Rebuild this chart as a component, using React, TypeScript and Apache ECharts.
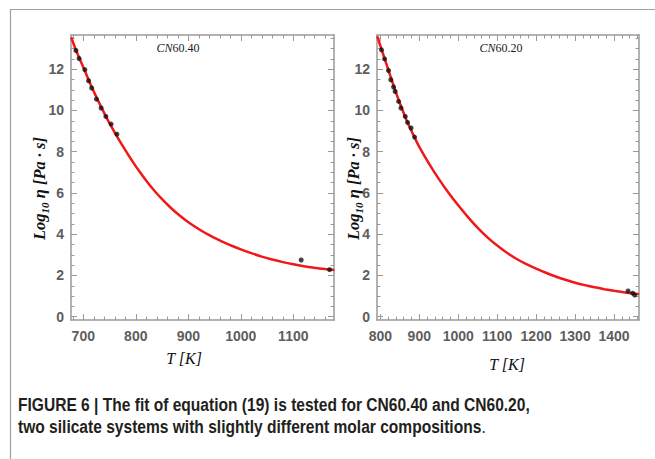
import React, { useEffect, useRef } from "react";
import * as echarts from "echarts";

// ---------- data ----------
const leftCurveT = [677, 686, 700, 715, 730, 745, 760, 775, 790, 805, 820, 835, 850, 865, 880, 895, 910, 925, 940, 955, 970, 985, 1000, 1020, 1040, 1060, 1080, 1100, 1120, 1140, 1160, 1178];
const leftCurveV = [13.55, 12.93, 12.1, 11.2, 10.38, 9.62, 8.93, 8.28, 7.68, 7.11, 6.59, 6.12, 5.7, 5.32, 4.98, 4.68, 4.41, 4.17, 3.955, 3.76, 3.58, 3.415, 3.265, 3.08, 2.915, 2.77, 2.645, 2.54, 2.45, 2.375, 2.31, 2.26];
const leftPtsT = [686, 692, 703, 710, 716, 725, 734, 743, 753, 764, 1115, 1169];
const leftPtsV = [12.91, 12.52, 11.98, 11.44, 11.09, 10.55, 10.12, 9.71, 9.34, 8.85, 2.75, 2.28];

const rightCurveT = [792, 805, 820, 835, 850, 865, 880, 888, 900, 925, 950, 975, 1000, 1025, 1050, 1075, 1100, 1125, 1150, 1175, 1200, 1225, 1250, 1275, 1300, 1325, 1350, 1375, 1400, 1425, 1450, 1464];
const rightCurveV = [13.6, 12.86, 12.0, 11.16, 10.36, 9.64, 9.0, 8.69, 8.24, 7.425, 6.685, 6.015, 5.4, 4.83, 4.31, 3.85, 3.45, 3.1, 2.8, 2.55, 2.33, 2.13, 1.95, 1.79, 1.65, 1.53, 1.425, 1.335, 1.255, 1.185, 1.125, 1.095];
const rightPtsT = [803, 811, 821, 827, 834, 838, 847, 853, 864, 870, 879, 888, 1436, 1448, 1453];
const rightPtsV = [12.94, 12.5, 11.94, 11.49, 11.14, 10.92, 10.44, 10.12, 9.71, 9.42, 9.15, 8.71, 1.25, 1.14, 1.05];

const leftXTicks = [700, 800, 900, 1000, 1100];
const rightXTicks = [800, 900, 1000, 1100, 1200, 1300, 1400];
const yTicks = [0, 2, 4, 6, 8, 10, 12];

const leftTitle = ["CN", "60.40"];
const rightTitle = ["CN", "60.20"];
const xName = "T [K]";
const yNameParts = ["Log", "10", " η [Pa · s]"];
const captionLine1 = "FIGURE 6 | The fit of equation (19) is tested for CN60.40 and CN60.20,";
const captionLine2 = "two silicate systems with slightly different molar compositions";

// ---------- layout / style ----------
const LEFT_X = { min: 676.6, max: 1177.5, minorFrom: 680, minorTo: 1160 };
const RIGHT_X = { min: 791.5, max: 1464, minorFrom: 800, minorTo: 1460 };
const Y_RANGE = { min: -0.16, max: 13.66, minorFrom: 0, minorTo: 13.5 };

function steps(from: number, to: number, step: number): number[] {
  const out: number[] = [];
  for (let i = 0; from + i * step <= to + 1e-9; i++) out.push(Math.round((from + i * step) * 100) / 100);
  return out;
}
function zip(a: number[], b: number[]) {
  return a.map((v, i) => [v, b[i]]);
}

const GRAY = "#9a9a9a";
const labelStyle = {
  fontFamily: '"Liberation Sans Narrow", "Arial Narrow", "Liberation Sans", sans-serif',
  fontWeight: "bold" as const,
  fontSize: 14,
  color: "#5e5e5e",
};
const SERIF = '"Liberation Serif", "DejaVu Serif", serif';

function axesFor(dim: "x" | "y", grid: number, min: number, max: number, major: number[], minor: number[]) {
  const base: any = { type: "value", gridIndex: grid, min, max, splitLine: { show: false } };
  const pos = dim === "x" ? ["bottom", "top"] : ["left", "right"];
  const line = { show: true, onZero: false, lineStyle: { color: GRAY, width: 1.5 } };
  const noLine = { show: false, onZero: false };
  return [
    {
      ...base,
      position: pos[0],
      axisLine: line,
      axisTick: { show: true, inside: true, length: 6, customValues: major, lineStyle: { color: GRAY, width: 1 } },
      axisLabel: {
        show: true,
        customValues: major,
        margin: dim === "x" ? 9 : 7,
        hideOverlap: false,
        showMinLabel: true,
        showMaxLabel: true,
        formatter: (v: number) => String(v),
        ...labelStyle,
      },
    },
    {
      ...base,
      position: pos[0],
      axisLine: noLine,
      axisTick: { show: true, inside: true, length: 3.5, customValues: minor, lineStyle: { color: GRAY, width: 1 } },
      axisLabel: { show: false },
    },
    {
      ...base,
      position: pos[1],
      axisLine: line,
      axisTick: { show: true, inside: true, length: 6, customValues: major, lineStyle: { color: GRAY, width: 1 } },
      axisLabel: { show: false },
    },
    {
      ...base,
      position: pos[1],
      axisLine: noLine,
      axisTick: { show: true, inside: true, length: 3.5, customValues: minor, lineStyle: { color: GRAY, width: 1 } },
      axisLabel: { show: false },
    },
  ];
}

function yNameGraphic(x: number, y: number) {
  const f = { fontFamily: SERIF, fontStyle: "italic", fontWeight: "bold", fill: "#111" };
  return {
    type: "text",
    x,
    y,
    rotation: Math.PI / 2,
    style: {
      text: `{a|${yNameParts[0]}}{s|${yNameParts[1]}}{a|${yNameParts[2]}}`,
      align: "center",
      verticalAlign: "middle",
      rich: {
        a: { ...f, fontSize: 16.5, lineHeight: 18, verticalAlign: "top" },
        s: { ...f, fontSize: 11, lineHeight: 11, padding: [8, 0, 0, 0], verticalAlign: "top" },
      },
    },
  };
}

function titleGraphic(x: number, parts: string[]) {
  return {
    type: "text",
    x,
    y: 47.5,
    style: {
      text: `{i|${parts[0]}}{r|${parts[1]}}`,
      align: "center",
      verticalAlign: "middle",
      rich: {
        i: { fontFamily: SERIF, fontStyle: "italic", fontSize: 12, fill: "#222" },
        r: { fontFamily: SERIF, fontSize: 12, fill: "#222" },
      },
    },
  };
}

function xNameGraphic(x: number, y: number) {
  return {
    type: "text",
    x,
    y,
    style: { text: xName, fontFamily: SERIF, fontStyle: "italic", fontSize: 16, fill: "#111", align: "center", verticalAlign: "middle" },
  };
}

export default function App() {
  const ref = useRef<HTMLDivElement>(null);
  useEffect(() => {
    if (!ref.current) return;
    const chart = echarts.init(ref.current, undefined, { renderer: "svg" });

    const capFont = 'bold 19px "Liberation Sans", Arial, sans-serif';
    let sx = 0.78;
    const cv = document.createElement("canvas").getContext("2d");
    if (cv) {
      cv.font = capFont;
      const w = cv.measureText(captionLine1).width;
      if (w > 0) sx = 512 / w;
    }

    const xMinorL = steps(LEFT_X.minorFrom, LEFT_X.minorTo, 20);
    const xMinorR = steps(RIGHT_X.minorFrom, RIGHT_X.minorTo, 20);
    const yMinor = steps(Y_RANGE.minorFrom, Y_RANGE.minorTo, 0.5);

    const option: any = {
      animation: false,
      backgroundColor: "#ffffff",
      grid: [
        { left: 71, top: 35, width: 263, height: 285 },
        { left: 377, top: 35, width: 262, height: 285 },
      ],
      xAxis: [
        ...axesFor("x", 0, LEFT_X.min, LEFT_X.max, leftXTicks, xMinorL),
        ...axesFor("x", 1, RIGHT_X.min, RIGHT_X.max, rightXTicks, xMinorR),
      ],
      yAxis: [
        ...axesFor("y", 0, Y_RANGE.min, Y_RANGE.max, yTicks, yMinor),
        ...axesFor("y", 1, Y_RANGE.min, Y_RANGE.max, yTicks, yMinor),
      ],
      series: [
        {
          type: "line",
          xAxisIndex: 0,
          yAxisIndex: 0,
          data: zip(leftCurveT, leftCurveV),
          showSymbol: false,
          smooth: 0.3,
          lineStyle: { color: "#f01818", width: 2.5 },
          z: 2,
        },
        {
          type: "scatter",
          xAxisIndex: 0,
          yAxisIndex: 0,
          data: zip(leftPtsT, leftPtsV),
          symbolSize: 5,
          itemStyle: { color: "#111" },
          z: 3,
        },
        {
          type: "line",
          xAxisIndex: 4,
          yAxisIndex: 4,
          data: zip(rightCurveT, rightCurveV),
          showSymbol: false,
          smooth: 0.3,
          lineStyle: { color: "#f01818", width: 2.5 },
          z: 2,
        },
        {
          type: "scatter",
          xAxisIndex: 4,
          yAxisIndex: 4,
          data: zip(rightPtsT, rightPtsV),
          symbolSize: 5,
          itemStyle: { color: "#111" },
          z: 3,
        },
      ],
      graphic: [
        { type: "line", shape: { x1: 10, y1: 9.5, x2: 655, y2: 9.5 }, style: { stroke: "#a0a0a0", lineWidth: 1.2 } },
        { type: "line", shape: { x1: 10.5, y1: 9, x2: 10.5, y2: 459 }, style: { stroke: "#a0a0a0", lineWidth: 1.2 } },
        titleGraphic(178, leftTitle),
        titleGraphic(501, rightTitle),
        xNameGraphic(184, 358),
        xNameGraphic(507, 364),
        yNameGraphic(40, 188.5),
        yNameGraphic(354, 188.5),
        {
          type: "text",
          x: 18,
          y: 404,
          scaleX: sx,
          style: { text: captionLine1, font: capFont, fill: "#231f20", align: "left", verticalAlign: "middle" },
        },
        {
          type: "text",
          x: 18,
          y: 426,
          scaleX: sx,
          style: {
            text: `{b|${captionLine2}}{n|.}`,
            align: "left",
            verticalAlign: "middle",
            rich: {
              b: { font: capFont, fill: "#231f20" },
              n: { font: '19px "Liberation Sans", Arial, sans-serif', fill: "#231f20" },
            },
          },
        },
      ],
    };
    chart.setOption(option);
    return () => chart.dispose();
  }, []);
  return (
    <div
      ref={ref}
      style={{ position: "fixed", left: 0, top: 0, width: 655, height: 459, background: "#fff" }}
    />
  );
}
